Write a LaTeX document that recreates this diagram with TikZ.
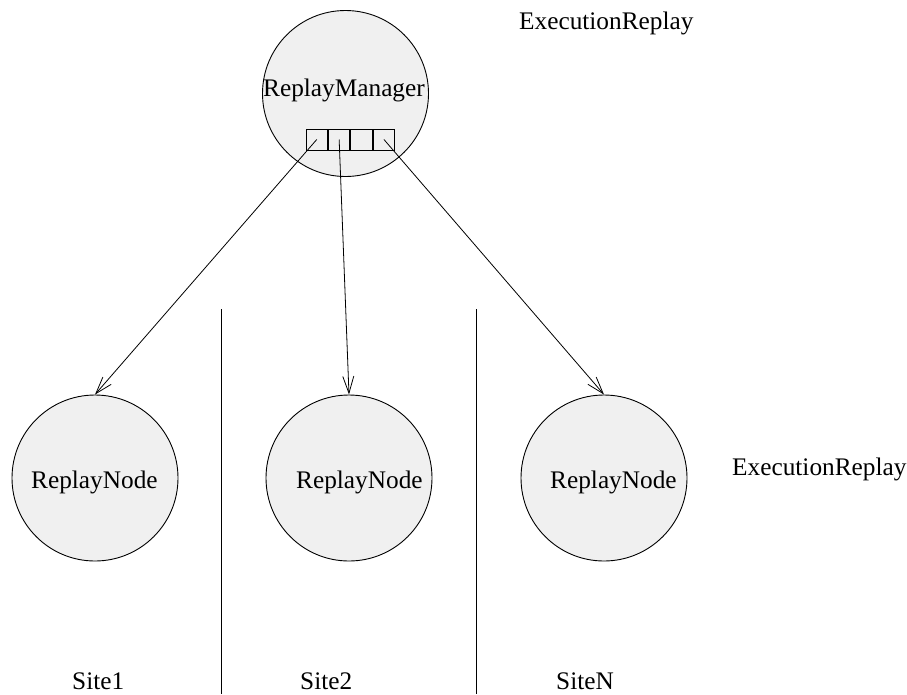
\documentclass[tikz,border=0pt]{standalone}
\usepackage{fontspec}
\setmainfont{Liberation Serif}
\usetikzlibrary{arrows.meta}
\definecolor{nodefill}{gray}{0.94}
\begin{document}
\begin{tikzpicture}[x=1pt,y=-1pt,
  proc/.style={circle,draw=black,fill=nodefill,line width=0.9pt,minimum size=166pt,inner sep=0pt},
  slot/.style={draw=black,line width=0.9pt,minimum width=21.5pt,minimum height=21pt,inner sep=0pt},
  lbl/.style={anchor=base west,inner sep=0pt,font=\fontsize{25.3}{30}\selectfont},
  msg/.style={draw=black,line width=0.8pt,-{Straight Barb[length=17pt,width=11pt,line width=0.8pt]}},
  divider/.style={draw=black,line width=0.9pt}]
\useasboundingbox (0,0) rectangle (907,694);

% manager process with its queue of four slots
\node[proc] (mgr) at (345.5,93.5) {};
\node[lbl] (mgrtxt) at (263,96) {ReplayManager};
\node[slot] (b1) at (316.75,139.5) {};
\node[slot,anchor=west] (b2) at (b1.east) {};
\node[slot,anchor=west] (b3) at (b2.east) {};
\node[slot,anchor=west] (b4) at (b3.east) {};

% replay processes, one per site
\node[proc] (n1) at (95,478) {};
\node[proc] (n2) at (349,478) {};
\node[proc] (n3) at (604,478) {};
\node[lbl] (t1) at (31,488) {ReplayNode};
\node[lbl] (t2) at (296,488) {ReplayNode};
\node[lbl] (t3) at (550,488) {ReplayNode};

% messages from the queue to each site
\draw[msg] (b1.center) -- (n1.north);
\draw[msg] (b2.center) -- (n2.north);
\draw[msg] (b4.center) -- (n3.north);

% site separators
\coordinate (s1top) at (221,309);
\coordinate (s1bot) at (221,694);
\coordinate (s2top) at (476,309);
\coordinate (s2bot) at (476,694);
\draw[divider] (s1top) -- (s1bot);
\draw[divider] (s2top) -- (s2bot);

% labels
\node[lbl] (er1) at (519,29) {ExecutionReplay};
\node[lbl] (er2) at (732,475) {ExecutionReplay};
\node[lbl] (site1) at (72,689) {Site1};
\node[lbl] (site2) at (300,689) {Site2};
\node[lbl] (siten) at (556,689) {SiteN};
\end{tikzpicture}
\end{document}
